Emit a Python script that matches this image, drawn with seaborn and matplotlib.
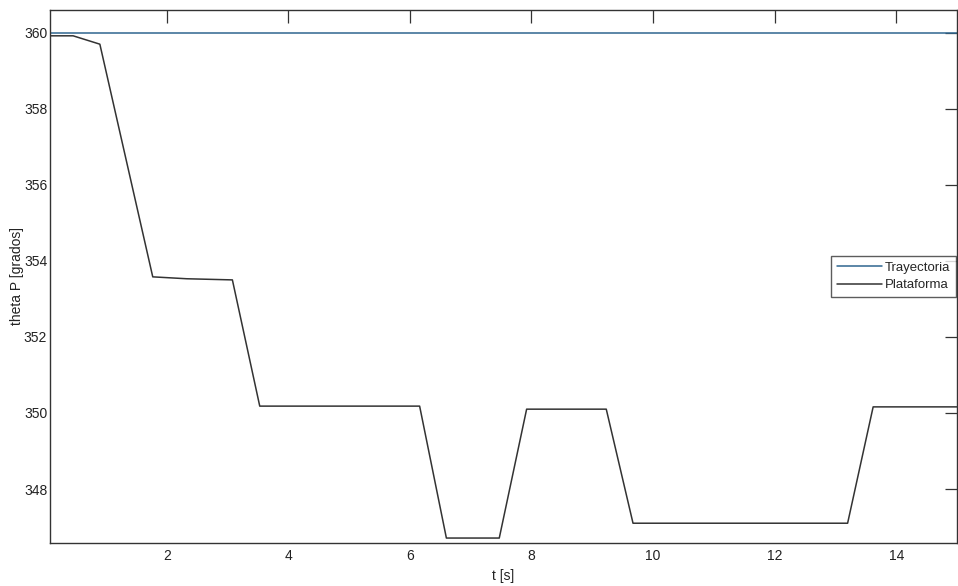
import numpy as np
import pandas as pd
import matplotlib
matplotlib.use("Agg")
import matplotlib.pyplot as plt
import seaborn as sns

# datos
t_plat = [0.08, 0.46, 0.90, 1.77, 2.33, 3.08, 3.53, 6.16, 6.60, 7.47, 7.92, 9.23, 9.67, 13.20, 13.62, 15.0]
theta_plat = [359.92, 359.92, 359.70, 353.58, 353.53, 353.50, 350.18, 350.18, 346.71, 346.71, 350.10, 350.10, 347.10, 347.10, 350.16, 350.16]
t_tray = [0.08, 15.0]
theta_tray = [360.0, 360.0]

df = pd.concat([
    pd.DataFrame({'t': t_tray, 'theta': theta_tray, 'serie': 'Trayectoria'}),
    pd.DataFrame({'t': t_plat, 'theta': theta_plat, 'serie': 'Plataforma'}),
])

sns.set_style('white')
plt.rcParams['font.family'] = ['Liberation Sans Narrow', 'Liberation Sans', 'DejaVu Sans']

fig = plt.figure(figsize=(9.58, 5.86), dpi=100)
ax = fig.add_axes([0.0522, 0.0734, 0.9468, 0.9096])

sns.lineplot(data=df, x='t', y='theta', hue='serie', sort=False,
             palette={'Trayectoria': '#2f6690', 'Plataforma': '#333333'},
             linewidth=1.1, ax=ax)

ax.set_xlim(0.08, 15.0)
ax.set_ylim(346.58, 360.6)
ax.set_xticks([2, 4, 6, 8, 10, 12, 14])
ax.set_yticks([348, 350, 352, 354, 356, 358, 360])
ax.tick_params(direction='in', length=9, width=0.9, color='#333333',
               top=True, right=True, labelsize=10, labelcolor='#222222')
ax.tick_params(axis='y', pad=2)
ax.tick_params(axis='x', pad=4)
for s in ax.spines.values():
    s.set_color('#333333')
    s.set_linewidth(1.0)

ax.set_xlabel('t [s]', fontsize=10, color='#222222', labelpad=5)
ax.set_ylabel('theta P [grados]', fontsize=10, color='#222222', labelpad=0)

leg = ax.legend(loc='center right', fontsize=9.5, frameon=True, fancybox=False,
                edgecolor='#333333', handlelength=3.4, handletextpad=0.2,
                borderpad=0.45, labelspacing=0.4, borderaxespad=0.1)
leg.get_frame().set_linewidth(1.0)

fig.savefig('out.png', dpi=100)
